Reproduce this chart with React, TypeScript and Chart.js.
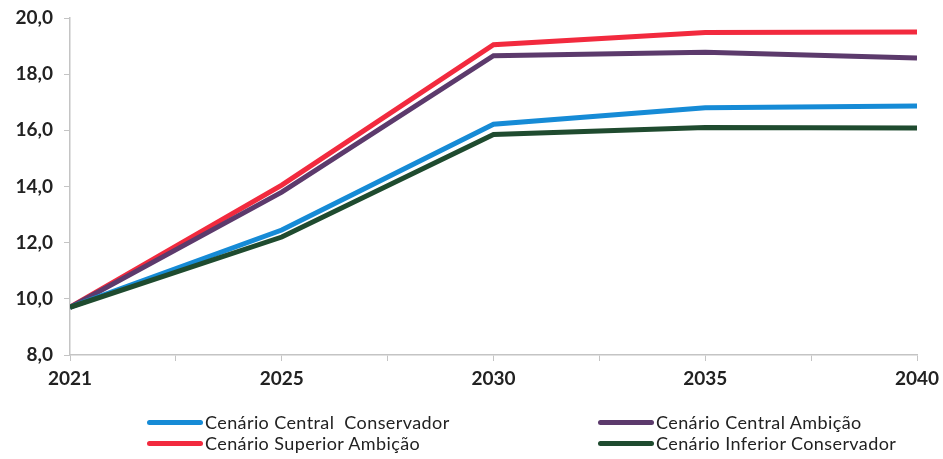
import React, { useEffect, useRef } from "react";
import { Chart, registerables } from "chart.js";

Chart.register(...registerables);

const years = ["2021", "2025", "2030", "2035", "2040"];
const centralConservador = [9.7, 12.45, 16.22, 16.8, 16.87];
const centralAmbicao = [9.7, 13.8, 18.66, 18.78, 18.58];
const superiorAmbicao = [9.7, 14.05, 19.05, 19.48, 19.5];
const inferiorConservador = [9.7, 12.2, 15.85, 16.1, 16.08];
const yTicks = [8, 10, 12, 14, 16, 18, 20];

const seriesNames = [
  "Cenário Central  Conservador",
  "Cenário Central Ambição",
  "Cenário Superior Ambição",
  "Cenário Inferior Conservador",
];
const seriesColors = ["#168bd6", "#5c3a6c", "#f22a3e", "#1f4b2f"];
const seriesValues = [centralConservador, centralAmbicao, superiorAmbicao, inferiorConservador];

const FONT = "Lato, 'Open Sans', sans-serif";

export default function App() {
  const ref = useRef<HTMLCanvasElement | null>(null);

  useEffect(() => {
    if (!ref.current) return;
    const datasets = seriesValues.map((vals, i) => ({
      label: seriesNames[i],
      data: vals.map((v, k) => ({ x: k * 2, y: v })),
      borderColor: seriesColors[i],
      backgroundColor: seriesColors[i],
      borderWidth: 5,
      pointRadius: 0,
      tension: 0,
      fill: false,
    }));
    const order = [3, 0, 1, 2];
    const ds = order.map((i) => datasets[i]);

    const chart = new Chart(ref.current, {
      type: "line",
      data: { datasets: ds },
      options: {
        animation: false,
        responsive: false,
        maintainAspectRatio: false,
        layout: { padding: { left: 0, right: 26, top: 18, bottom: 0 } },
        plugins: { legend: { display: false }, tooltip: { enabled: false } },
        scales: {
          x: {
            type: "linear",
            min: 0,
            max: (years.length - 1) * 2,
            afterFit: (s: any) => {
              s.height = 104;
              s.paddingLeft = 0;
              s.paddingRight = 0;
            },
            ticks: {
              stepSize: 1,
              autoSkip: false,
              maxRotation: 0,
              padding: 6,
              color: "#222",
              font: { family: FONT, size: 19, weight: "bold" },
              callback: (v: any) => (Number(v) % 2 === 0 ? years[Number(v) / 2] : ""),
            },
            grid: { drawOnChartArea: false, drawTicks: true, tickLength: 6, color: "#c4c4c4" },
            border: { color: "#c4c4c4", width: 1.5 },
          },
          y: {
            min: yTicks[0],
            max: yTicks[yTicks.length - 1],
            afterFit: (s: any) => {
              s.width = 70;
              s.paddingTop = 0;
              s.paddingBottom = 0;
            },
            afterBuildTicks: (s: any) => {
              s.ticks = yTicks.map((v) => ({ value: v }));
            },
            ticks: {
              padding: 11,
              color: "#222",
              font: { family: FONT, size: 19, weight: "bold" },
              callback: (v: any) => Number(v).toFixed(1).replace(".", ","),
            },
            grid: { drawOnChartArea: false, drawTicks: true, tickLength: 6, color: "#c4c4c4" },
            border: { color: "#c4c4c4", width: 1.5 },
          },
        },
      },
    });
    return () => chart.destroy();
  }, []);

  const legendPos = [
    { left: 147, top: 412 },
    { left: 598, top: 412 },
    { left: 147, top: 433 },
    { left: 598, top: 433 },
  ];

  return (
    <div style={{ position: "fixed", left: 0, top: 0, width: 943, height: 459, background: "#fff" }}>
      <canvas ref={ref} width={943} height={459} style={{ display: "block" }} />
      {seriesNames.map((n, i) => (
        <div
          key={n}
          style={{
            position: "absolute",
            left: legendPos[i].left,
            top: legendPos[i].top,
            height: 20,
            display: "flex",
            alignItems: "center",
            fontFamily: FONT,
            fontSize: 18,
            letterSpacing: 0.4,
            color: "#222",
            whiteSpace: "pre",
          }}
        >
          <span style={{ display: "inline-block", width: 56, height: 5, background: seriesColors[i], borderRadius: 3, marginRight: 2 }} />
          {n}
        </div>
      ))}
    </div>
  );
}
